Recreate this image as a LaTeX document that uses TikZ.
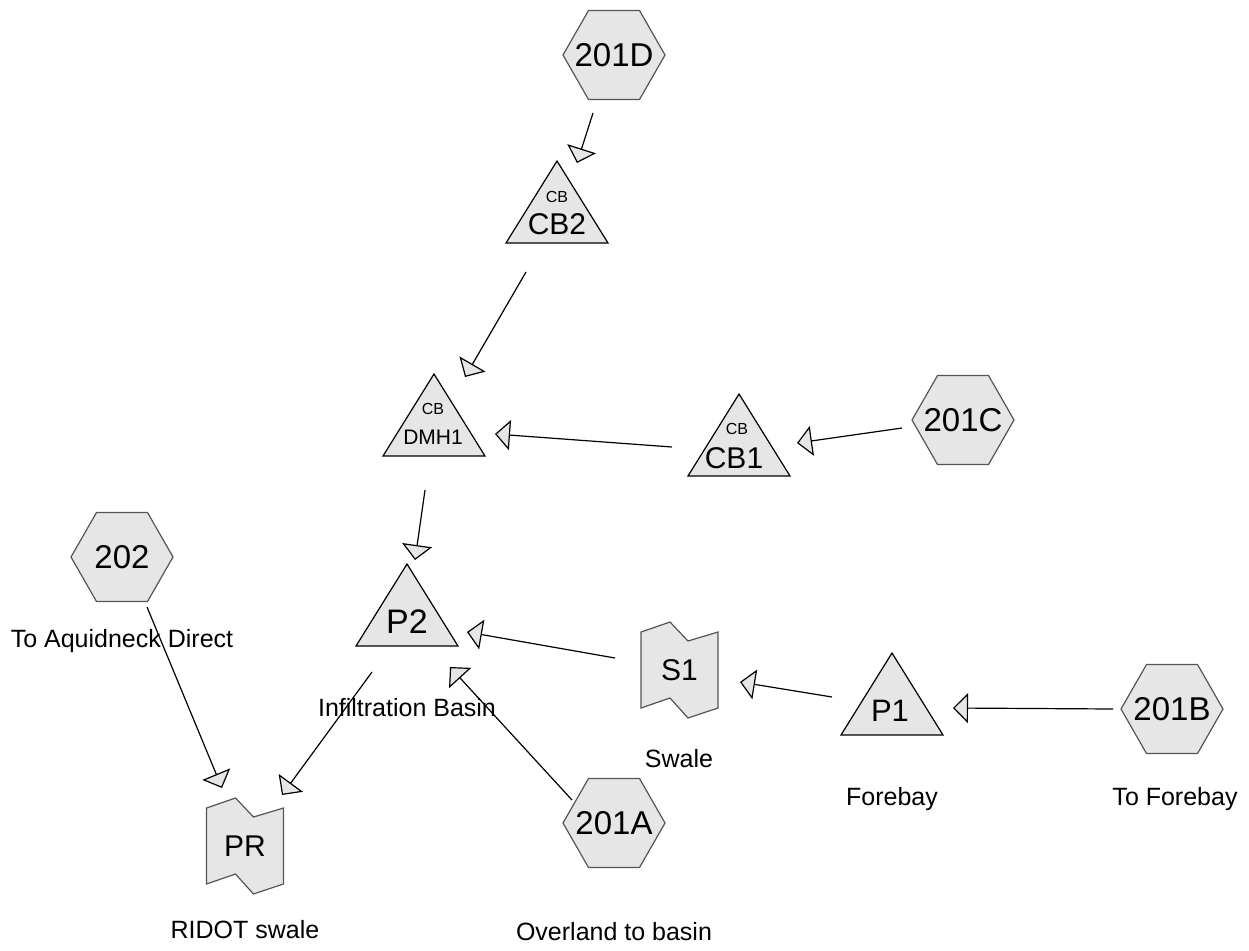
\documentclass[tikz,border=0pt]{standalone}
\usepackage{fontspec}
\setmainfont{Liberation Sans}
\usetikzlibrary{arrows.meta,calc}
\definecolor{shapefill}{HTML}{E6E6E6}
\definecolor{hexline}{HTML}{555555}
\tikzset{
  outl/.style={draw=hexline, fill=shapefill, line width=1.2pt, line join=miter},
  tri/.style={draw=black, fill=shapefill, line width=1.2pt, line join=miter},
  hextxt/.style={inner sep=0pt, font=\fontsize{33}{36}\selectfont},
  bigtxt/.style={inner sep=0pt, font=\fontsize{30}{34}\selectfont},
  smalltxt/.style={inner sep=0pt, font=\fontsize{16}{18}\selectfont},
  midtxt/.style={inner sep=0pt, font=\fontsize{21}{24}\selectfont},
  lbl/.style={inner sep=0pt, anchor=base, font=\fontsize{25}{28}\selectfont},
  arr/.style={line width=1.2pt, -{Triangle[length=15pt,width=30pt,fill=shapefill]}},
  hexpic/.pic={\draw[outl] (-51,0) -- (-25.5,-44.5) -- (25.5,-44.5) -- (51,0) -- (25.5,44.5) -- (-25.5,44.5) -- cycle;},
  swalepic/.pic={\draw[outl] (-38.5,-38) -- (-9.5,-48) -- (8.5,-29) -- (38.5,-38) -- (38.5,38) -- (8.5,48) -- (-9.5,28) -- (-38.5,38) -- cycle;},
  tripic/.pic={\draw[tri] (0,-41) -- (51,41) -- (-51,41) -- cycle;}
}
\begin{document}
\begin{tikzpicture}[x=1pt,y=-1pt]
\useasboundingbox (0,0) rectangle (1249,950);
% hexagons
\pic at (614,55) {hexpic};
\pic at (963,420) {hexpic};
\pic at (122,557) {hexpic};
\pic at (1172,709) {hexpic};
\pic at (614,823) {hexpic};
\node[hextxt] (h201D) at (614,55) {201D};
\node[hextxt] (h201C) at (963,420) {201C};
\node[hextxt] (h202) at (122,557) {202};
\node[hextxt] (h201B) at (1172,709) {201B};
\node[hextxt] (h201A) at (614,823) {201A};
% triangles
\coordinate (CB2) at (557,202);
\coordinate (DMH1) at (434,415);
\coordinate (CB1) at (739,435);
\coordinate (P2) at (407,605);
\coordinate (P1) at (892,694);
\pic at (CB2) {tripic};
\pic at (DMH1) {tripic};
\pic at (CB1) {tripic};
\pic at (P2) {tripic};
\pic at (P1) {tripic};
\node[smalltxt] (CB2a) at (557,197) {CB};
\node[bigtxt] (CB2b) at (557,224) {CB2};
\node[smalltxt] (DMH1a) at (433,409) {CB};
\node[midtxt] (DMH1b) at (433,437) {DMH1};
\node[smalltxt] (CB1a) at (737,429) {CB};
\node[bigtxt] (CB1b) at (734,458) {CB1};
\node[inner sep=0pt, font=\fontsize{34}{38}\selectfont] (P2t) at (407,622) {P2};
\node[inner sep=0pt, font=\fontsize{31}{35}\selectfont] (P1t) at (890,711) {P1};
% swales
\coordinate (S1) at (679.5,670);
\coordinate (PR) at (245,846);
\pic at (S1) {swalepic};
\pic at (PR) {swalepic};
\node[bigtxt] (S1t) at (S1) {S1};
\node[bigtxt] (PRt) at (PR) {PR};
% labels
\node[lbl] (l202) at (122,647) {To Aquidneck Direct};
\node[lbl] (lP2) at (407,716) {Infiltration Basin};
\node[lbl] (lS1) at (679,767) {Swale};
\node[lbl] (lP1) at (892,805) {Forebay};
\node[lbl] (l201B) at (1175,805) {To Forebay};
\node[lbl] (lPR) at (245,938) {RIDOT swale};
\node[lbl] (l201A) at (614,940) {Overland to basin};
% connectors
\draw[arr] ($(h201D)+(-21,58)$) -- ($(CB2)+(20,-39)$);
\draw[arr] ($(CB2)+(-31,70)$) -- ($(DMH1)+(31,-38)$);
\draw[arr] ($(CB1)+(-67,12)$) -- ($(DMH1)+(61,19)$);
\draw[arr] ($(h201C)+(-61,8)$) -- ($(CB1)+(58,8)$);
\draw[arr] ($(DMH1)+(-9,75)$) -- ($(P2)+(8,-45)$);
\draw[arr] ($(S1)+(-64.5,-12)$) -- ($(P2)+(60,27)$);
\draw[arr] ($(h201A)+(-42,-23)$) -- ($(P2)+(43,62)$);
\draw[arr] ($(P2)+(-35,67)$) -- ($(PR)+(37,-51)$);
\draw[arr] ($(h202)+(25,50)$) -- ($(PR)+(-23,-58)$);
\draw[arr] ($(P1)+(-60,3)$) -- ($(S1)+(60.5,12)$);
\draw[arr] ($(h201B)+(-59,0)$) -- ($(P1)+(61,14)$);
\end{tikzpicture}
\end{document}
